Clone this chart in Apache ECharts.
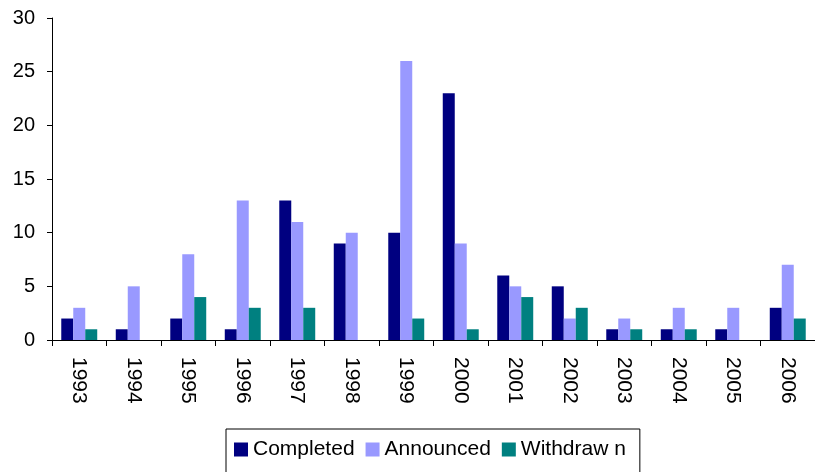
<!DOCTYPE html>
<html>
<head>
<meta charset="utf-8">
<script src="https://cdn.jsdelivr.net/npm/echarts@6/dist/echarts.min.js"></script>
<style>html,body{margin:0;padding:0;background:#fff;}#c{width:815px;height:472px;}</style>
</head>
<body>
<div id="c"></div>
<script>
const categories = ['1993','1994','1995','1996','1997','1998','1999','2000','2001','2002','2003','2004','2005','2006'];
const completed = [2,1,2,1,13,9,10,23,6,5,1,1,1,3];
const announced = [3,5,8,13,11,10,26,9,5,2,2,3,3,7];
const withdrawn = [1,0,4,3,3,0,2,1,4,3,1,1,0,2];
const seriesNames = ['Completed','Announced','Withdraw n'];
const yTicks = [0,5,10,15,20,25,30];

const font = 'Liberation Sans, Arial, sans-serif';
const chart = echarts.init(document.getElementById('c'), null, {renderer:'canvas'});
chart.setOption({
  animation:false,
  backgroundColor:'#fff',
  grid:{left:52, top:18, height:322, width:769, containLabel:false},
  legend:{
    data:seriesNames,
    left:226, top:429,
    orient:'horizontal',
    borderColor:'#000', borderWidth:1,
    padding:[10,14,14,8],
    itemWidth:14, itemHeight:14, itemGap:11,
    icon:'rect',
    textStyle:{fontFamily:font, fontSize:21, color:'#000'}
  },
  xAxis:{
    type:'category', data:categories,
    axisLine:{lineStyle:{color:'#000', width:1}},
    axisTick:{show:true, length:6, lineStyle:{color:'#000'}},
    axisLabel:{rotate:-90, margin:17, fontFamily:font, fontSize:21, color:'#000', interval:0}
  },
  yAxis:{
    type:'value', min:yTicks[0], max:yTicks[yTicks.length-1], interval:5,
    axisLine:{show:true, lineStyle:{color:'#000', width:1}},
    axisTick:{show:true, length:5, lineStyle:{color:'#000'}},
    splitLine:{show:false},
    axisLabel:{margin:17, fontFamily:font, fontSize:20, color:'#000'}
  },
  series:[
    {name:seriesNames[0], type:'bar', data:completed, itemStyle:{color:'#000080'}, barGap:'0%', barCategoryGap:'34%'},
    {name:seriesNames[1], type:'bar', data:announced, itemStyle:{color:'#9999FF'}, barGap:'0%', barCategoryGap:'34%'},
    {name:seriesNames[2], type:'bar', data:withdrawn, itemStyle:{color:'#008080'}, barGap:'0%', barCategoryGap:'34%'}
  ]
});
</script>
</body>
</html>
